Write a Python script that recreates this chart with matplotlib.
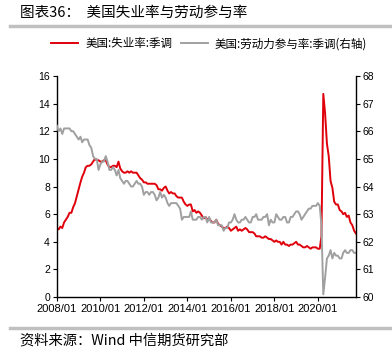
import matplotlib
matplotlib.use("Agg")
import matplotlib.pyplot as plt
import matplotlib.dates as mdates
import numpy as np
import pandas as pd

plt.rcParams['font.family'] = ['Noto Sans CJK SC', 'DejaVu Sans']

# ─── Data (monthly, 2008/01 – 2021/10) ─────────────────────────────────────────
months = pd.date_range("2008-01-01", "2021-10-01", freq="MS")

unemployment = [
    5.0, 4.9, 5.1, 5.0, 5.4, 5.6, 5.8, 6.1, 6.1, 6.5, 6.8, 7.3,
    7.8, 8.3, 8.7, 9.0, 9.4, 9.5, 9.5, 9.6, 9.8, 10.0, 9.9, 9.9,
    9.8, 9.8, 9.9, 9.9, 9.6, 9.4, 9.4, 9.5, 9.5, 9.4, 9.8, 9.3,
    9.1, 9.0, 9.0, 9.1, 9.0, 9.1, 9.0, 9.0, 9.0, 8.8, 8.6, 8.5,
    8.3, 8.3, 8.2, 8.2, 8.2, 8.2, 8.2, 8.1, 7.8, 7.8, 7.7, 7.9,
    8.0, 7.7, 7.5, 7.6, 7.5, 7.5, 7.3, 7.2, 7.2, 7.2, 6.9, 6.7,
    6.6, 6.7, 6.7, 6.2, 6.3, 6.1, 6.2, 6.1, 5.9, 5.7, 5.8, 5.6,
    5.7, 5.5, 5.4, 5.4, 5.6, 5.3, 5.2, 5.1, 5.0, 5.0, 5.1, 5.0,
    4.8, 4.9, 5.0, 5.1, 4.8, 4.9, 4.8, 4.9, 5.0, 4.9, 4.7, 4.7,
    4.7, 4.6, 4.4, 4.4, 4.4, 4.3, 4.3, 4.4, 4.3, 4.2, 4.2, 4.1,
    4.0, 4.1, 4.0, 4.0, 3.8, 4.0, 3.8, 3.8, 3.7, 3.8, 3.8, 3.9,
    4.0, 3.8, 3.8, 3.7, 3.6, 3.6, 3.7, 3.6, 3.5, 3.6, 3.6, 3.6,
    3.5, 3.5, 4.4, 14.7, 13.3, 11.1, 10.2, 8.4, 7.9, 6.9, 6.7, 6.7,
    6.3, 6.2, 6.0, 6.1, 5.8, 5.9, 5.4, 5.2, 4.8, 4.6,
]

participation = [
    66.2, 66.0, 66.1, 65.9, 66.1, 66.1, 66.1, 66.1, 66.0, 66.0, 65.9, 65.8,
    65.7, 65.8, 65.6, 65.7, 65.7, 65.7, 65.5, 65.4, 65.1, 65.0, 65.0, 64.6,
    64.8, 64.9, 64.9, 65.1, 64.9, 64.6, 64.6, 64.7, 64.6, 64.4, 64.6, 64.3,
    64.2, 64.1, 64.2, 64.2, 64.1, 64.0, 64.0, 64.1, 64.2, 64.1, 64.1, 64.0,
    63.7, 63.8, 63.8, 63.7, 63.8, 63.8, 63.7, 63.5, 63.6, 63.8, 63.6, 63.7,
    63.6, 63.4, 63.3, 63.4, 63.4, 63.4, 63.4, 63.3, 63.2, 62.8, 62.9, 62.9,
    62.9, 62.9, 63.1, 62.8, 62.8, 62.8, 62.9, 62.9, 62.8, 62.9, 62.9, 62.7,
    62.9, 62.7, 62.7, 62.7, 62.8, 62.6, 62.6, 62.6, 62.4, 62.5, 62.5, 62.7,
    62.7, 62.8, 63.0, 62.8, 62.7, 62.7, 62.8, 62.8, 62.9, 62.8, 62.7, 62.7,
    62.9, 62.9, 63.0, 62.8, 62.8, 62.8, 62.9, 62.9, 63.0, 62.6, 62.8, 62.7,
    62.7, 63.0, 62.9, 62.8, 62.8, 62.9, 62.9, 62.7, 62.7, 62.9, 62.9, 63.0,
    63.1, 63.1, 63.0, 62.8, 62.9, 63.0, 63.1, 63.2, 63.2, 63.3, 63.3, 63.3,
    63.4, 63.3, 62.6, 60.1, 60.7, 61.4, 61.5, 61.7, 61.4, 61.6, 61.5, 61.5,
    61.4, 61.4, 61.6, 61.7, 61.6, 61.6, 61.7, 61.7, 61.6, 61.6,
]

tick_years = [2008, 2010, 2012, 2014, 2016, 2018, 2020]
left_ticks = [0, 2, 4, 6, 8, 10, 12, 14, 16]
right_ticks = [60, 61, 62, 63, 64, 65, 66, 67, 68]

title = "图表36：  美国失业率与劳动参与率"
source = "资料来源：Wind 中信期货研究部"
label_unemp = "美国:失业率:季调"
label_lfpr = "美国:劳动力参与率:季调(右轴)"

RED = "#e0000b"
GREY = "#a0a0a0"

# ─── Figure ────────────────────────────────────────────────────────────────────
fig = plt.figure(figsize=(3.92, 3.58), dpi=100)
ax = fig.add_axes([0.145, 0.170, 0.763, 0.618])
ax2 = ax.twinx()

l1, = ax.plot(months, unemployment, color=RED, lw=1.4, label=label_unemp)
l2, = ax2.plot(months, participation, color=GREY, lw=1.4, label=label_lfpr)

ax.set_xlim(months[0], months[-1])
ax.set_ylim(0, 16)
ax2.set_ylim(60, 68)
ax.set_yticks(left_ticks)
ax2.set_yticks(right_ticks)
ax.set_xticks([pd.Timestamp(f"{y}-01-01") for y in tick_years])
ax.xaxis.set_major_formatter(mdates.DateFormatter("%Y/%m"))

for a in (ax, ax2):
    a.spines["top"].set_visible(False)
    for s in a.spines.values():
        s.set_linewidth(1.0)
        s.set_color("black")
    a.tick_params(axis="y", labelsize=7.5, length=3, width=0.8, pad=2)
    for lab in a.get_yticklabels():
        lab.set_fontfamily(["Liberation Sans", "DejaVu Sans"])
ax.tick_params(axis="x", labelsize=8, length=3, width=0.8, pad=2)
for lab in ax.get_xticklabels():
    lab.set_fontfamily(["Liberation Sans", "DejaVu Sans"])
ax.spines["right"].set_visible(False)
ax2.spines["left"].set_visible(False)
ax2.spines["bottom"].set_visible(False)

fig.legend(handles=[l1, l2], loc="center", bbox_to_anchor=(0.534, 0.878),
           ncol=2, frameon=False, fontsize=8.3, handlelength=2.35,
           columnspacing=0.75, handletextpad=0.6)

# title, separators and source
fig.text(0.052, 0.963, title, fontsize=10.5, va="center", ha="left")
fig.add_artist(plt.Line2D([0.025, 1.0], [0.927, 0.927], color="#c0c0c0", lw=2.5,
                          transform=fig.transFigure))
fig.add_artist(plt.Line2D([0.025, 1.0], [0.083, 0.083], color="#c0c0c0", lw=2.5,
                          transform=fig.transFigure))
fig.text(0.052, 0.048, source, fontsize=10.3, va="center", ha="left")

fig.savefig("out.png", dpi=100)
